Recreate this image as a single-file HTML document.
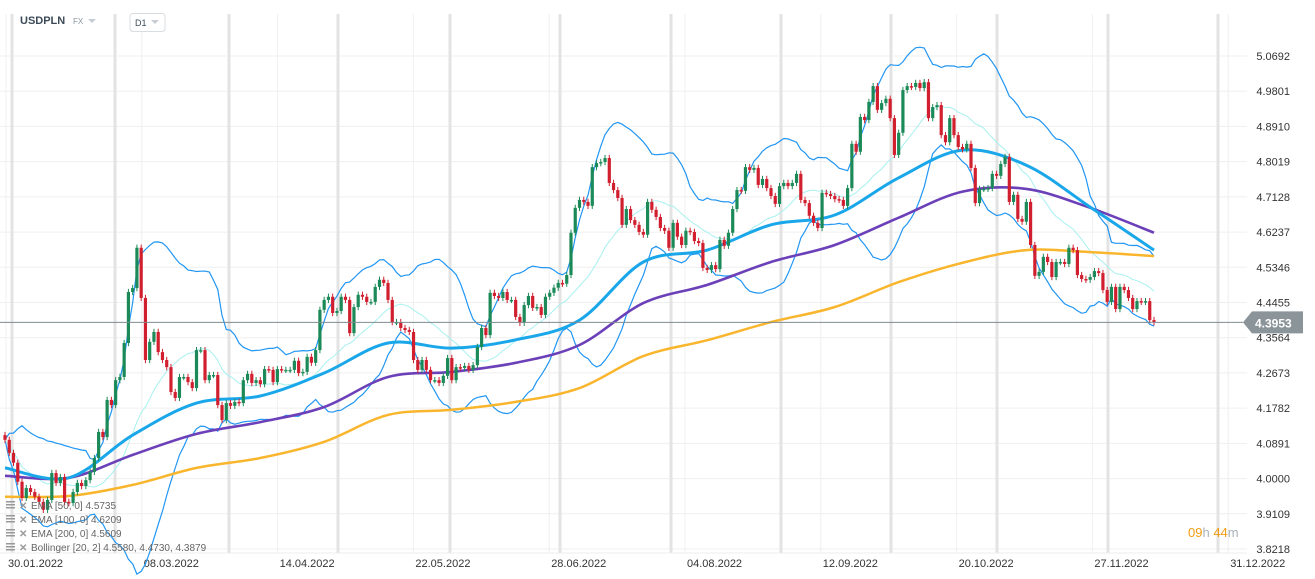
<!DOCTYPE html>
<html><head><meta charset="utf-8"><style>
html,body{margin:0;padding:0;background:#fff;}
svg{display:block;font-family:"Liberation Sans",sans-serif;}
</style></head><body>
<svg id="chart" width="1315" height="579" viewBox="0 0 1315 579" xmlns="http://www.w3.org/2000/svg">
<g id="grid"></g>
<g id="dates"></g>
<g id="yaxis"></g>
<g id="bands"></g>
<g id="emas"></g>
<g id="candles"></g>
<g id="pricegrp"></g>
<g>
  <text x="20" y="24" font-size="11" font-weight="bold" fill="#3c4a58">USDPLN</text>
  <text x="73" y="24" font-size="8" fill="#8a96a3">FX</text>
  <path d="M88 19 L96 19 L92 23 Z" fill="#c5ccd3"/>
  <rect x="130" y="13.5" width="35" height="18" rx="3" fill="#fff" stroke="#d8dde2"/>
  <text x="135" y="26" font-size="9" fill="#3c4a58">D1</text>
  <path d="M151 20 L159 20 L155 24 Z" fill="#c5ccd3"/>
</g>
<g id="legend"></g>
<g>
  <text x="1188" y="537" font-size="13"><tspan fill="#f39c12">09</tspan><tspan fill="#aab2b9">h </tspan><tspan fill="#f39c12">44</tspan><tspan fill="#aab2b9">m</tspan></text>
</g>
</svg>
<script>
const closes=[4.098,4.065,4.040,3.992,3.951,3.976,3.966,3.954,3.941,3.921,
3.946,4.014,3.989,4.004,3.941,3.938,3.966,3.989,3.981,3.996,
4.017,4.052,4.118,4.105,4.199,4.186,4.249,4.257,4.343,4.472,
4.482,4.584,4.457,4.300,4.346,4.371,4.320,4.300,4.282,4.219,
4.204,4.257,4.257,4.244,4.229,4.325,4.325,4.249,4.262,4.262,
4.186,4.148,4.191,4.184,4.194,4.191,4.249,4.265,4.242,4.249,
4.239,4.277,4.275,4.244,4.277,4.275,4.275,4.275,4.298,4.267,
4.270,4.308,4.293,4.325,4.427,4.452,4.460,4.419,4.424,4.460,
4.452,4.368,4.434,4.465,4.460,4.447,4.447,4.485,4.503,4.495,
4.452,4.396,4.396,4.381,4.376,4.371,4.300,4.275,4.300,4.275,
4.249,4.249,4.242,4.260,4.305,4.249,4.282,4.280,4.285,4.275,
4.287,4.333,4.381,4.363,4.470,4.462,4.457,4.472,4.452,4.452,
4.409,4.394,4.439,4.462,4.432,4.434,4.414,4.460,4.470,4.483,
4.495,4.493,4.515,4.622,4.685,4.705,4.700,4.690,
4.788,4.798,4.801,4.811,4.748,4.730,4.710,4.642,4.682,4.654,
4.642,4.624,4.617,4.700,4.680,4.662,4.634,4.627,4.584,4.647,
4.612,4.591,4.627,4.624,4.601,4.596,4.533,4.528,4.540,4.530,
4.604,4.589,4.622,4.682,4.730,4.728,4.788,4.781,4.786,4.743,
4.758,4.735,4.715,4.695,4.740,4.748,4.740,4.748,4.771,4.705,
4.697,4.665,4.647,4.634,4.723,4.720,4.715,4.707,4.705,4.690,
4.735,4.847,4.827,4.915,4.907,4.953,4.993,4.933,4.950,4.961,
4.912,4.819,
4.875,4.983,4.993,4.991,5.001,4.988,5.003,4.912,4.940,4.945,
4.869,4.851,4.912,4.869,4.839,4.833,4.847,4.786,4.697,4.733,
4.733,4.735,4.771,4.766,4.796,4.814,4.700,4.718,4.657,4.650,
4.700,4.591,4.513,4.523,4.561,4.548,4.510,4.548,4.548,4.543,
4.584,4.578,4.515,4.505,4.503,4.510,4.525,4.520,4.477,4.447,
4.485,4.429,4.485,4.477,4.457,4.429,4.449,4.447,4.449,4.401,4.3953];
const firstOpen=4.110;
const wick=0.008;
// EMA values sampled every 15 candles (index 0,15,...,270)
const emaStep=15;
const ema50=[4.027,4.002,4.110,4.191,4.209,4.267,4.343,4.330,4.351,4.401,4.548,4.578,4.642,4.667,4.761,4.831,4.793,4.687,4.578];
const ema100=[4.007,4.002,4.060,4.113,4.143,4.181,4.257,4.270,4.293,4.338,4.444,4.490,4.548,4.591,4.660,4.726,4.733,4.685,4.622];
const ema200=[3.954,3.956,3.984,4.027,4.052,4.093,4.161,4.174,4.194,4.229,4.310,4.350,4.396,4.434,4.497,4.546,4.578,4.573,4.563];
const yTicks=[5.0692,4.9801,4.8910,4.8019,4.7128,4.6237,4.5346,4.4455,4.3564,4.2673,4.1782,4.0891,4.0000,3.9109,3.8218];
const dateLabels=["30.01.2022","08.03.2022","14.04.2022","22.05.2022","28.06.2022","04.08.2022","12.09.2022","20.10.2022","27.11.2022","31.12.2022"];
const legendItems=["EMA  [50,  0]  4.5735","EMA  [100,  0]  4.6209","EMA  [200,  0]  4.5609","Bollinger   [20,  2]  4.5580,   4.4730,   4.3879"];
const lastPrice=4.3953;

const NS="http://www.w3.org/2000/svg";
function el(tag,attrs,parent){const e=document.createElementNS(NS,tag);for(const k in attrs)e.setAttribute(k,attrs[k]);parent.appendChild(e);return e;}
const pTop=5.0692,pBot=3.8218,yTop=56,yBot=549;
function Y(p){return yTop+(pTop-p)*(yBot-yTop)/(pTop-pBot);}
const n=closes.length;
function X(i){return 5+i*(1154-5)/(n-1);}

// grid
const grid=document.getElementById('grid');
yTicks.forEach(t=>{const l=el('line',{x1:0,x2:1247,y1:Y(t),y2:Y(t),stroke:'#efefef','stroke-width':1},grid);

});
[12,115,229,338,450,560,671,781,891,997,1108,1218].forEach(x=>{const l=el('line',{x1:x,x2:x,y1:14,y2:553,stroke:'#e3e3e3','stroke-width':3},grid);

});
el('line',{x1:0,x2:1247,y1:553,y2:553,stroke:'#eeeeee'},grid);
// dates
const dg=document.getElementById('dates');
dateLabels.forEach((d,i)=>{const x=6+i*135.8;
const l=el('line',{x1:x,x2:x,y1:14,y2:553,stroke:'#f0f0f0','stroke-width':1},grid);


const t=el('text',{x:x+2,y:567,'font-size':11,fill:'#333'},dg);t.textContent=d;

});
// y axis
const ya=document.getElementById('yaxis');
yTicks.forEach(t=>{const e=el('text',{x:1290,y:Y(t)+4,'font-size':11,fill:'#333','text-anchor':'end'},ya);e.textContent=t.toFixed(4);

});

// bollinger computed from closes
const up=[],mid=[],lo=[];
for(let i=0;i<n;i++){const w=closes.slice(Math.max(0,i-19),i+1);const m=w.reduce((a,b)=>a+b,0)/w.length;
const sd=Math.sqrt(w.reduce((a,b)=>a+(b-m)*(b-m),0)/w.length);mid.push(m);up.push(m+2*sd);lo.push(m-2*sd);}
const bg=document.getElementById('bands');
function poly(arr,xf){return arr.map((v,i)=>(i?'L':'M')+xf(i).toFixed(1)+' '+Y(v).toFixed(1)).join(' ');}
const bu=el('path',{d:poly(up,X),fill:'none',stroke:'#2196f3','stroke-width':1.2},bg);


const bl=el('path',{d:poly(lo,X),fill:'none',stroke:'#2196f3','stroke-width':1.2},bg);


const bm=el('path',{d:poly(mid,X),fill:'none',stroke:'#a8f0f0','stroke-width':1},bg);



// EMAs smooth
function smooth(arr){const pts=arr.map((v,i)=>[X(Math.min(i*emaStep,n-1)),Y(v)]);
let d='M'+pts[0][0]+' '+pts[0][1];
for(let i=0;i<pts.length-1;i++){const p0=pts[Math.max(0,i-1)],p1=pts[i],p2=pts[i+1],p3=pts[Math.min(pts.length-1,i+2)];
d+=' C'+(p1[0]+(p2[0]-p0[0])/6).toFixed(1)+' '+(p1[1]+(p2[1]-p0[1])/6).toFixed(1)+' '+(p2[0]-(p3[0]-p1[0])/6).toFixed(1)+' '+(p2[1]-(p3[1]-p1[1])/6).toFixed(1)+' '+p2[0].toFixed(1)+' '+p2[1].toFixed(1);}
return d;}
const eg=document.getElementById('emas');
const e200=el('path',{d:smooth(ema200),fill:'none',stroke:'#f9b52c','stroke-width':2.5},eg);


const e100=el('path',{d:smooth(ema100),fill:'none',stroke:'#6b40b8','stroke-width':2.6},eg);


const e50=el('path',{d:smooth(ema50),fill:'none',stroke:'#1aa7ea','stroke-width':3},eg);



// candles
const cg=document.getElementById('candles');
for(let i=0;i<n;i++){const o=i?closes[i-1]:firstOpen,c=closes[i];const col=c>=o?'#1b8a58':'#d11f2f';
const x=X(i);const hi=Math.max(o,c)+wick,lw=Math.min(o,c)-wick;
const g=el('g',{},cg);


el('line',{x1:x,x2:x,y1:Y(hi),y2:Y(lw),stroke:col,'stroke-width':1},g);
const top=Y(Math.max(o,c)),h=Math.max(1.5,Y(Math.min(o,c))-top);
el('rect',{x:x-1.6,y:top,width:3.2,height:h,fill:col},g);}

// price line & tag
const pg=document.getElementById('pricegrp');const py=Y(lastPrice);
const pl=el('line',{x1:0,x2:1243,y1:py,y2:py,stroke:'#7f8b90','stroke-width':1},pg);


const tag=el('path',{d:`M1243 ${py} L1252 ${py-11} L1303 ${py-11} L1303 ${py+11} L1252 ${py+11} Z`,fill:'#8a9499'},pg);


const pt=el('text',{x:1255,y:py+5,'font-size':12,'font-weight':'bold',fill:'#fff'},pg);pt.textContent=lastPrice.toFixed(4);



// legend
const lg=document.getElementById('legend');
legendItems.forEach((s,i)=>{const y=508+i*14;
const g=el('g',{},lg);


[0,3,6].forEach(d=>el('rect',{x:6,y:y-7+d,width:9,height:1.5,fill:'#999'},g));
const x=el('text',{x:19,y:y+1,'font-size':10,fill:'#999','font-weight':'bold'},g);x.textContent='✕';
const t=el('text',{x:31,y:y+1,'font-size':10,fill:'#666'},g);t.textContent=s;});
</script>
</body></html>
